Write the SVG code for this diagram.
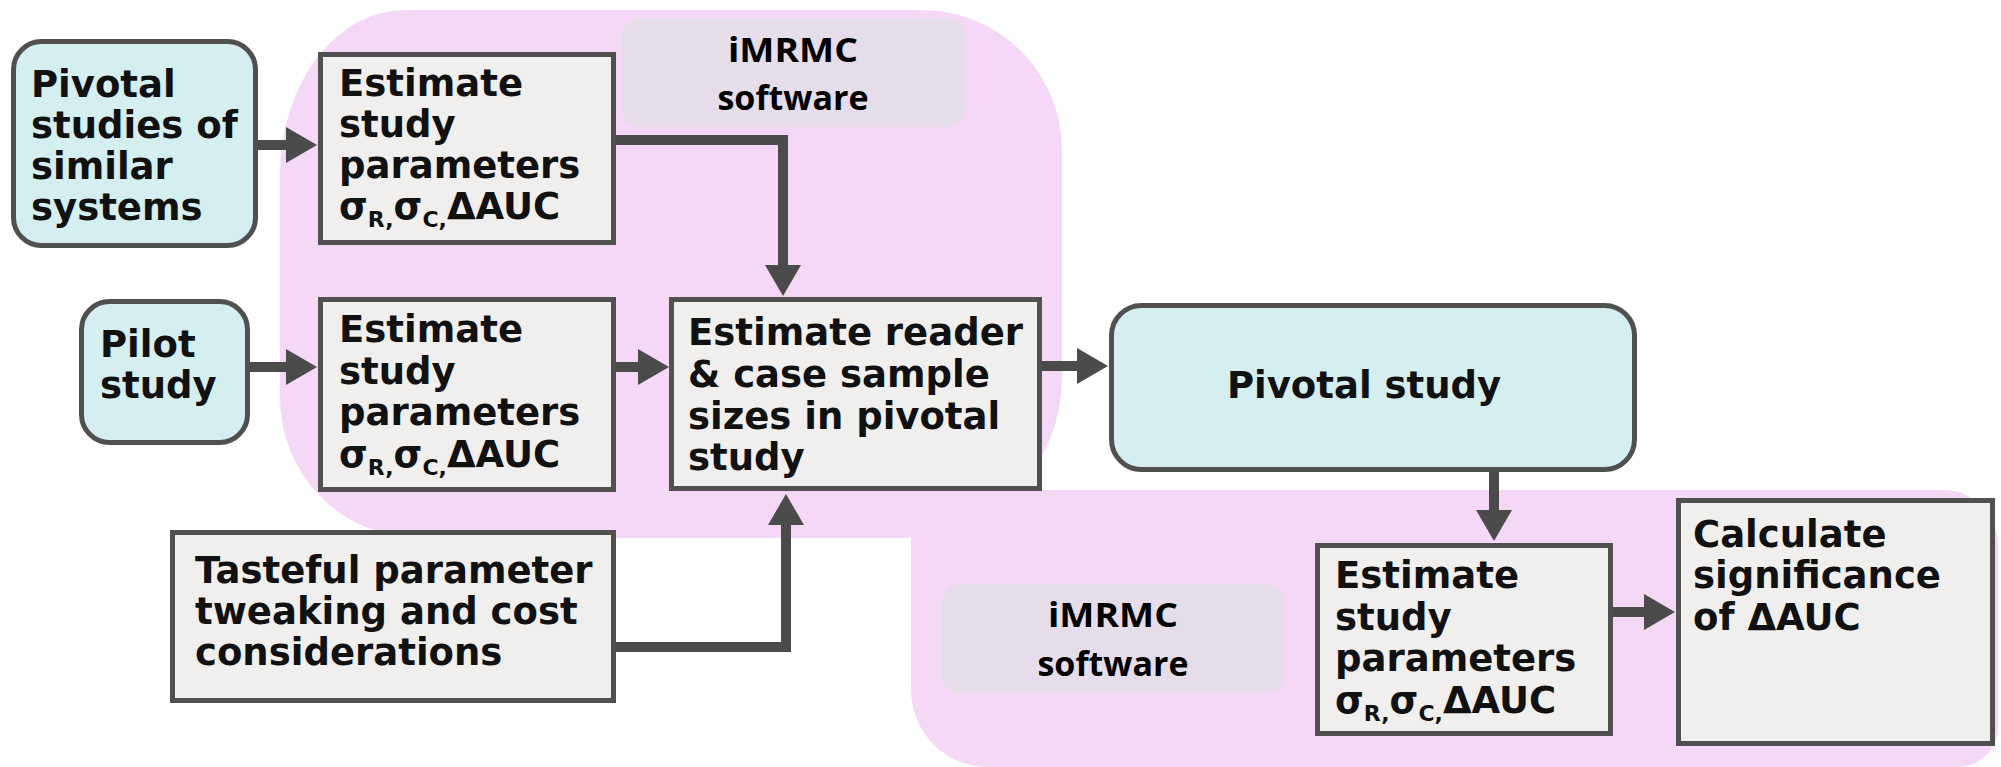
<svg xmlns="http://www.w3.org/2000/svg" width="2001" height="767" viewBox="0 0 2001 767">
<style>
.region{fill:#f4d8f5}
.soft{fill:#e5dde9}
.box{fill:#f0efed;stroke:#505050;stroke-width:5}
.term{fill:#d5eef0;stroke:#505050;stroke-width:5}
.t{font-family:"DejaVu Sans",sans-serif;font-weight:bold;font-size:37px;fill:#111}
.sub{font-size:22px}
.sw{font-family:"Open Sans","Liberation Sans",sans-serif;font-weight:bold;font-size:34px;fill:#000;text-anchor:middle}
.c{fill:none;stroke:#4b4b4b;stroke-width:10;stroke-linejoin:miter}
</style>
<defs>
<marker id="ah" markerUnits="userSpaceOnUse" markerWidth="31" markerHeight="36" viewBox="0 0 31 36" refX="0" refY="18" orient="auto">
<path d="M0,0 L31,18 L0,36 z" fill="#4b4b4b"/>
</marker>
</defs>

<g id="regions">
<path class="region" d="M405,10 H922 A140,140 0 0 1 1062,150 V378 A160,160 0 0 1 902,538 H420 A140,140 0 0 1 280,398 V175 A125,165 0 0 1 405,10 Z"/>
<path class="region" d="M911,490 H1943 A55,55 0 0 1 1998,545 V727 A40,40 0 0 1 1958,767 H988 A77,77 0 0 1 911,690 Z"/>
</g>

<g id="imrmc-top">
<rect class="soft" x="622" y="18" width="343" height="109" rx="18"/>
<text class="sw" x="793" y="62" textLength="130" lengthAdjust="spacingAndGlyphs">iMRMC</text>
<text class="sw" x="793" y="110">software</text>
</g>
<g id="imrmc-bottom">
<rect class="soft" x="942" y="584" width="342" height="109" rx="18"/>
<text class="sw" x="1113" y="627" textLength="130" lengthAdjust="spacingAndGlyphs">iMRMC</text>
<text class="sw" x="1113" y="676">software</text>
</g>

<g id="connectors">
<path class="c" d="M258,145 H286" marker-end="url(#ah)"/>
<path class="c" d="M616,140 H783 V265" marker-end="url(#ah)"/>
<path class="c" d="M250,367 H286" marker-end="url(#ah)"/>
<path class="c" d="M616,367 H638" marker-end="url(#ah)"/>
<path class="c" d="M1042,366 H1077" marker-end="url(#ah)"/>
<path class="c" d="M616,647 H786 V525" marker-end="url(#ah)"/>
<path class="c" d="M1494,472 V510" marker-end="url(#ah)"/>
<path class="c" d="M1613,612 H1644" marker-end="url(#ah)"/>
</g>

<g id="pivotal-similar">
<rect class="term" x="13.5" y="41.5" width="242" height="204" rx="28"/>
<text class="t" x="31" y="97">Pivotal</text>
<text class="t" x="31" y="138">studies of</text>
<text class="t" x="31" y="179">similar</text>
<text class="t" x="31" y="220">systems</text>
</g>

<g id="estimate-1">
<rect class="box" x="320.5" y="54.5" width="293" height="188"/>
<text class="t" x="339" y="96">Estimate</text>
<text class="t" x="339" y="137">study</text>
<text class="t" x="339" y="178">parameters</text>
<text class="t" x="339" y="219">σ<tspan class="sub" dy="8">R,</tspan><tspan dy="-8">σ</tspan><tspan class="sub" dy="8">C,</tspan><tspan dy="-8">ΔAUC</tspan></text>
</g>

<g id="pilot">
<rect class="term" x="81.5" y="301.5" width="166" height="141" rx="28"/>
<text class="t" x="100" y="357">Pilot</text>
<text class="t" x="100" y="398">study</text>
</g>

<g id="estimate-2">
<rect class="box" x="320.5" y="299.5" width="293" height="190"/>
<text class="t" x="339" y="342">Estimate</text>
<text class="t" x="339" y="383.5">study</text>
<text class="t" x="339" y="425">parameters</text>
<text class="t" x="339" y="466.5">σ<tspan class="sub" dy="8">R,</tspan><tspan dy="-8">σ</tspan><tspan class="sub" dy="8">C,</tspan><tspan dy="-8">ΔAUC</tspan></text>
</g>

<g id="sample-sizes">
<rect class="box" x="671.5" y="299.5" width="368" height="189"/>
<text class="t" x="688" y="345">Estimate reader</text>
<text class="t" x="688" y="387">&amp; case sample</text>
<text class="t" x="688" y="429">sizes in pivotal</text>
<text class="t" x="688" y="470">study</text>
</g>

<g id="pivotal-study">
<rect class="term" x="1111.5" y="305.5" width="523" height="164" rx="30"/>
<text class="t" x="1364" y="398" text-anchor="middle">Pivotal study</text>
</g>

<g id="tweaking">
<rect class="box" x="172.5" y="532.5" width="441" height="168"/>
<text class="t" x="195" y="583">Tasteful parameter</text>
<text class="t" x="195" y="624">tweaking and cost</text>
<text class="t" x="195" y="665">considerations</text>
</g>

<g id="estimate-3">
<rect class="box" x="1317.5" y="545.5" width="293" height="188"/>
<text class="t" x="1335" y="588">Estimate</text>
<text class="t" x="1335" y="629.5">study</text>
<text class="t" x="1335" y="671">parameters</text>
<text class="t" x="1335" y="712.5">σ<tspan class="sub" dy="8">R,</tspan><tspan dy="-8">σ</tspan><tspan class="sub" dy="8">C,</tspan><tspan dy="-8">ΔAUC</tspan></text>
</g>

<g id="significance">
<rect class="box" x="1678.5" y="500.5" width="314" height="243"/>
<text class="t" x="1693" y="547">Calculate</text>
<text class="t" x="1693" y="588">significance</text>
<text class="t" x="1693" y="630">of ΔAUC</text>
</g>
</svg>
